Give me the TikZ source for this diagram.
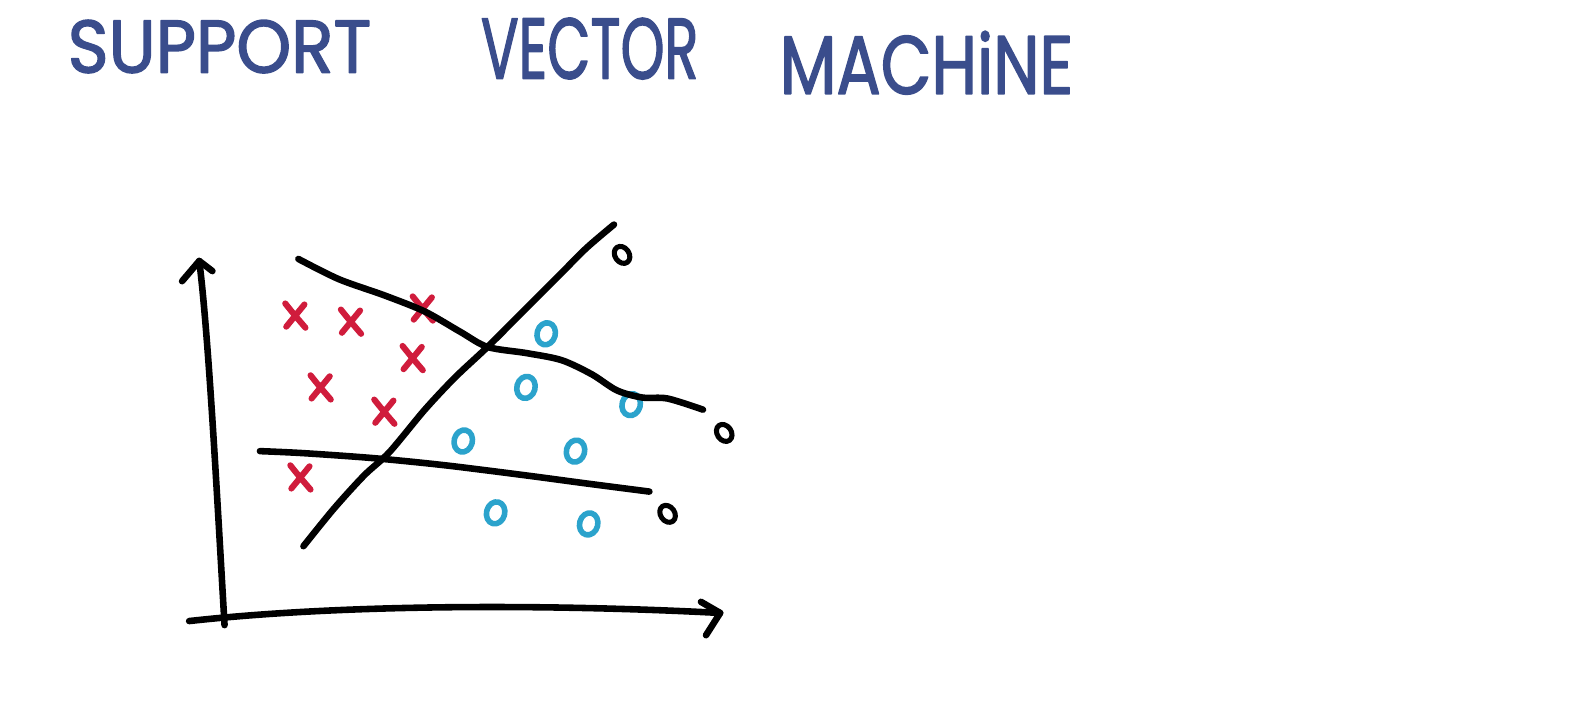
\documentclass[tikz,border=0pt]{standalone}
\usepackage{fontspec}
\setmainfont{Poppins}
\newfontfamily\handfont[FakeBold=2]{Poppins}
\definecolor{titleblue}{HTML}{3A4D8C}
\definecolor{xred}{HTML}{D01C3C}
\definecolor{oblue}{HTML}{2BA3CC}
\begin{document}
\begin{tikzpicture}[x=1pt,y=-1pt,line cap=round,line join=round,
  ink/.style={draw=black,line width=6.5pt},
  titletext/.style={text=titleblue,inner sep=0pt,font=\handfont},
  xmark/.pic={\draw[xred,line width=6pt] (-10,-12) .. controls (-2,-2) .. (10,12) (9,-11) .. controls (0,0) .. (-9,11);},
  omark/.pic={\draw[oblue,line width=5.5pt,rotate=-15] (0,0) ellipse (9 and 11);},
  kmark/.pic={\draw[black,line width=5pt,rotate=35] (0,0) ellipse (7 and 9);}]
\useasboundingbox[fill=white] (0,0) rectangle (1568,694);
% title
\node[titletext] (t1) at (217,46) {\resizebox{300pt}{52pt}{SUPPORT}};
\node[titletext] (t2) at (583,48) {\resizebox{215pt}{60pt}{VECTOR}};
\node[titletext] (t3) at (916,62) {\resizebox{290pt}{62pt}{MACHiNE}};
% red crosses
\foreach \p in {(292,312),(347,318),(418,305),(408,354),(317,383),(380,407),(297,472)} \pic at \p {xmark};
% blue circles
\foreach \p in {(540,330),(520,383),(624,400),(458,436),(569,446),(490,507),(582,518)} \pic at \p {omark};
% black circles
\foreach \p in {(615,252),(716,428),(660,508)} \pic at \p {kmark};
% axes
\coordinate (ytop) at (197,258);
\coordinate (origin) at (222,618);
\coordinate (xend) at (712,606);
\draw[ink] (origin) .. controls (214,480) and (206,330) .. (ytop);
\draw[ink] (180,278) -- (ytop) -- (210,268);
\draw[ink] (187,614) .. controls (350,596) and (560,598) .. (xend);
\draw[ink] (693,595) -- (xend) -- (698,628);
% separating lines
\draw[ink] plot[smooth,tension=0.5] coordinates {(295,256) (335,276) (380,292) (420,308) (455,328) (482,343) (520,349) (555,356) (585,370) (610,386) (635,393) (660,394) (695,405)};
\draw[ink] plot[smooth,tension=0.5] coordinates {(300,540) (330,503) (360,470) (385,447) (420,405) (450,373) (482,343) (520,305) (555,270) (580,245) (607,222)};
\draw[ink] plot[smooth,tension=0.5] coordinates {(257,446) (300,448) (370,453) (440,460) (520,470) (580,478) (642,486)};
\end{tikzpicture}
\end{document}
